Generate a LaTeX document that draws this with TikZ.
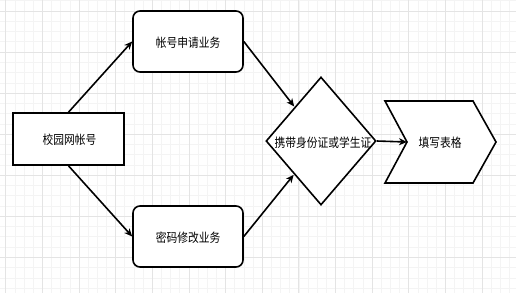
\documentclass[tikz,border=0pt]{standalone}
\usepackage{fontspec}
\newfontfamily\cjk[FakeStretch=0.86]{Noto Sans CJK SC}
\usetikzlibrary{arrows.meta,shapes.geometric}
\definecolor{gridminor}{HTML}{F4F4F4}
\definecolor{gridmajor}{HTML}{E4E4E4}
\begin{document}
\begin{tikzpicture}[x=1pt,y=-1pt,
  minorline/.style={draw=gridminor,line width=0.6pt},
  majorline/.style={draw=gridmajor,line width=0.8pt},
  plainbox/.style={draw=black,line width=1.6pt,fill=white,inner sep=0pt},
  roundbox/.style={plainbox,rounded corners=7pt},
  lbl/.style={font=\cjk\fontsize{12.5}{14}\selectfont,inner sep=0pt},
  conn/.style={draw=black,line width=1.6pt,-{Stealth[length=8pt,width=7pt,inset=2.5pt]}}]
\useasboundingbox (0,0) rectangle (516,293);
\fill[white] (0,0) rectangle (516,293);
% grid
\foreach \i in {-1,...,56} {\draw[minorline] ({5.7+9.16*\i},0) -- ++(0,293);}
\foreach \i in {-2,...,28} {\draw[minorline] (0,{11+10.2625*\i}) -- ++(516,0);}
\foreach \i in {0,...,14} {\draw[majorline] ({5.7+36.64*\i},0) -- ++(0,293);}
\foreach \i in {-1,...,7} {\draw[majorline] (0,{11+41.05*\i}) -- ++(516,0);}
% nodes
\node[plainbox,minimum width=111pt,minimum height=52pt] (acc) at (68.5,139) {};
\node[lbl] at (69.5,140) {校园网帐号};
\node[roundbox,minimum width=110pt,minimum height=61pt] (apply) at (188,41.5) {};
\node[lbl] at (188,42.5) {帐号申请业务};
\node[roundbox,minimum width=110pt,minimum height=61pt] (pwd) at (188,236.5) {};
\node[lbl] at (188,237.5) {密码修改业务};
\node[plainbox,shape=diamond,minimum width=110pt,minimum height=128pt] (dia) at (321,141) {};
\node[lbl] (dialbl) at (323,143) {携带身份证或学生证};
% chevron
\coordinate (notch) at (407,142);
\draw[plainbox,line join=miter] (385,101) -- (473,101) -- (496,142) -- (473,183) -- (385,183) -- (notch) -- cycle;
\node[lbl] (fill) at (440,143) {填写表格};
% connectors
\draw[conn] (acc.north) -- (apply.west);
\draw[conn] (acc.south) -- (pwd.west);
\draw[conn,shorten >=0.5pt] (apply.east) -- (dia);
\draw[conn,shorten >=0.5pt] (pwd.east) -- (dia);
\draw[conn] (dia.east) -- (notch);
\end{tikzpicture}
\end{document}
